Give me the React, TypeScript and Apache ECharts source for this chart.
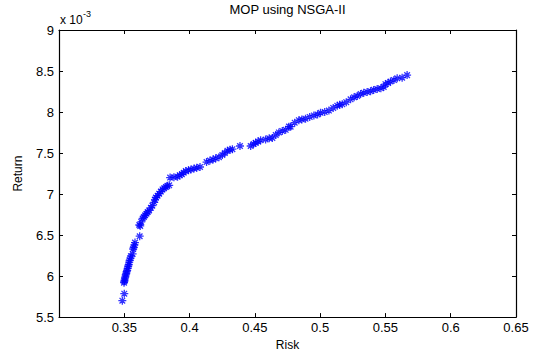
import React, { useEffect, useRef } from "react";
import * as echarts from "echarts";

// Risk values (x)
const risk: number[] = [
  0.3485, 0.35, 0.3498, 0.35, 0.3502, 0.3505, 0.3508, 0.3511, 0.3515, 0.3518,
  0.3522, 0.3526, 0.353, 0.3534, 0.3538, 0.3541, 0.3548, 0.3551, 0.3564, 0.3568,
  0.3572, 0.3578, 0.3582, 0.3618, 0.3622, 0.3615, 0.363, 0.3641, 0.365, 0.366,
  0.367, 0.3679, 0.369, 0.3704, 0.3715, 0.3729, 0.3735, 0.3742, 0.3755, 0.3767,
  0.378, 0.3793, 0.3805, 0.3819, 0.383, 0.3844, 0.3851, 0.388, 0.3908, 0.3925,
  0.3941, 0.3955, 0.3971, 0.3992, 0.401, 0.4034, 0.4055, 0.408, 0.413, 0.4156,
  0.418, 0.42, 0.4225, 0.4251, 0.427, 0.429, 0.431, 0.4328, 0.4386, 0.4468,
  0.449, 0.4506, 0.4525, 0.4544, 0.4582, 0.461, 0.4634, 0.466, 0.4684, 0.471,
  0.4736, 0.4761, 0.4774, 0.4805, 0.4837, 0.486, 0.4888, 0.492, 0.4952, 0.498,
  0.5003, 0.5035, 0.5067, 0.51, 0.5131, 0.515, 0.5169, 0.52, 0.5233, 0.526,
  0.5284, 0.531, 0.5334, 0.536, 0.5386, 0.541, 0.5437, 0.5465, 0.5487, 0.55,
  0.552, 0.5539, 0.5565, 0.559, 0.5628, 0.5666,
];

// Return values (y), in units of 10^-3
const returnE3: number[] = [
  5.7, 5.786, 5.92, 5.936, 5.95, 5.975, 5.99, 6.015, 6.03, 6.054,
  6.07, 6.093, 6.12, 6.14, 6.17, 6.192, 6.22, 6.243, 6.27, 6.33,
  6.349, 6.38, 6.408, 6.486, 6.611, 6.623, 6.66, 6.702, 6.72, 6.741,
  6.76, 6.781, 6.8, 6.832, 6.86, 6.899, 6.93, 6.958, 6.98, 7.005,
  7.03, 7.056, 7.07, 7.087, 7.1, 7.106, 7.201, 7.205, 7.212, 7.23,
  7.241, 7.26, 7.28, 7.291, 7.3, 7.311, 7.32, 7.33, 7.39, 7.409,
  7.42, 7.436, 7.45, 7.476, 7.5, 7.527, 7.54, 7.547, 7.586, 7.586,
  7.61, 7.625, 7.64, 7.657, 7.665, 7.68, 7.684, 7.72, 7.751, 7.77,
  7.783, 7.822, 7.822, 7.87, 7.901, 7.91, 7.919, 7.94, 7.959, 7.97,
  7.99, 8.0, 8.018, 8.05, 8.077, 8.09, 8.096, 8.12, 8.155, 8.18,
  8.195, 8.22, 8.234, 8.245, 8.254, 8.27, 8.281, 8.29, 8.305, 8.34,
  8.355, 8.372, 8.39, 8.411, 8.419, 8.45,
];

const titleText = "MOP using NSGA-II";
const xName = "Risk";
const yName = "Return";
const xMin = 0.3;
const xMax = 0.65;
const xStep = 0.05;
const yMin = 5.5;
const yMax = 9;
const yStep = 0.5;

const FONT = "'Liberation Sans', Arial, sans-serif";
const FS = 13;

export default function App() {
  const ref = useRef<HTMLDivElement>(null);

  useEffect(() => {
    document.body.style.margin = "0";
    if (!ref.current) return;
    const chart = echarts.init(ref.current, undefined, { renderer: "svg" });

    const data = risk.map((r, i) => [r, returnE3[i]]);

    const axisCommon = {
      axisLine: { show: true, onZero: false, lineStyle: { color: "#000", width: 1.2 } },
      axisTick: { show: true, inside: true, length: 4, lineStyle: { color: "#000" } },
      splitLine: { show: false },
    };

    chart.setOption({
      animation: false,
      backgroundColor: "#fff",
      textStyle: { fontFamily: FONT },
      grid: { left: 59, right: 18, top: 30, bottom: 29, containLabel: false },
      xAxis: [
        {
          type: "value",
          min: xMin,
          max: xMax,
          interval: xStep,
          position: "bottom",
          ...axisCommon,
          axisLabel: {
            color: "#000",
            fontSize: FS,
            fontFamily: FONT,
            margin: 4,
            showMinLabel: false,
            formatter: (v: number) => String(Math.round(v * 100) / 100),
          },
          name: xName,
          nameLocation: "middle",
          nameGap: 14,
          nameTextStyle: { color: "#000", fontSize: 12, fontFamily: FONT },
        },
        {
          type: "value",
          min: xMin,
          max: xMax,
          interval: xStep,
          position: "top",
          ...axisCommon,
          axisLabel: { show: false },
        },
      ],
      yAxis: [
        {
          type: "value",
          min: yMin,
          max: yMax,
          interval: yStep,
          position: "left",
          ...axisCommon,
          axisLabel: {
            color: "#000",
            fontSize: FS,
            fontFamily: FONT,
            margin: 5,
            formatter: (v: number) => String(Math.round(v * 10) / 10),
          },
          name: yName,
          nameLocation: "middle",
          nameGap: 35,
          nameTextStyle: { color: "#000", fontSize: 12, fontFamily: FONT },
        },
        {
          type: "value",
          min: yMin,
          max: yMax,
          interval: yStep,
          position: "right",
          ...axisCommon,
          axisLabel: { show: false },
        },
      ],
      graphic: [
        {
          type: "text",
          x: 287.5,
          y: 9,
          style: {
            text: titleText,
            fill: "#000",
            font: `13px ${FONT}`,
            align: "center",
            verticalAlign: "middle",
          },
        },
        {
          type: "text",
          x: 60,
          y: 14,
          style: { text: "x 10", fill: "#000", font: `12px ${FONT}`, align: "left", verticalAlign: "top" },
        },
        {
          type: "text",
          x: 83,
          y: 9,
          style: { text: "-3", fill: "#000", font: `9px ${FONT}`, align: "left", verticalAlign: "top" },
        },
      ],
      series: [
        {
          type: "scatter",
          xAxisIndex: 0,
          yAxisIndex: 0,
          data,
          symbol: "path://M0,-10L0,10M-10,0L10,0M-7,-7L7,7M-7,7L7,-7",
          symbolSize: 8,
          itemStyle: { color: "rgba(0,0,0,0)", borderColor: "#0000ff", borderWidth: 1.3 },
          emphasis: { disabled: true },
        },
      ],
    });

    return () => chart.dispose();
  }, []);

  return <div ref={ref} style={{ width: 534, height: 356 }} />;
}
